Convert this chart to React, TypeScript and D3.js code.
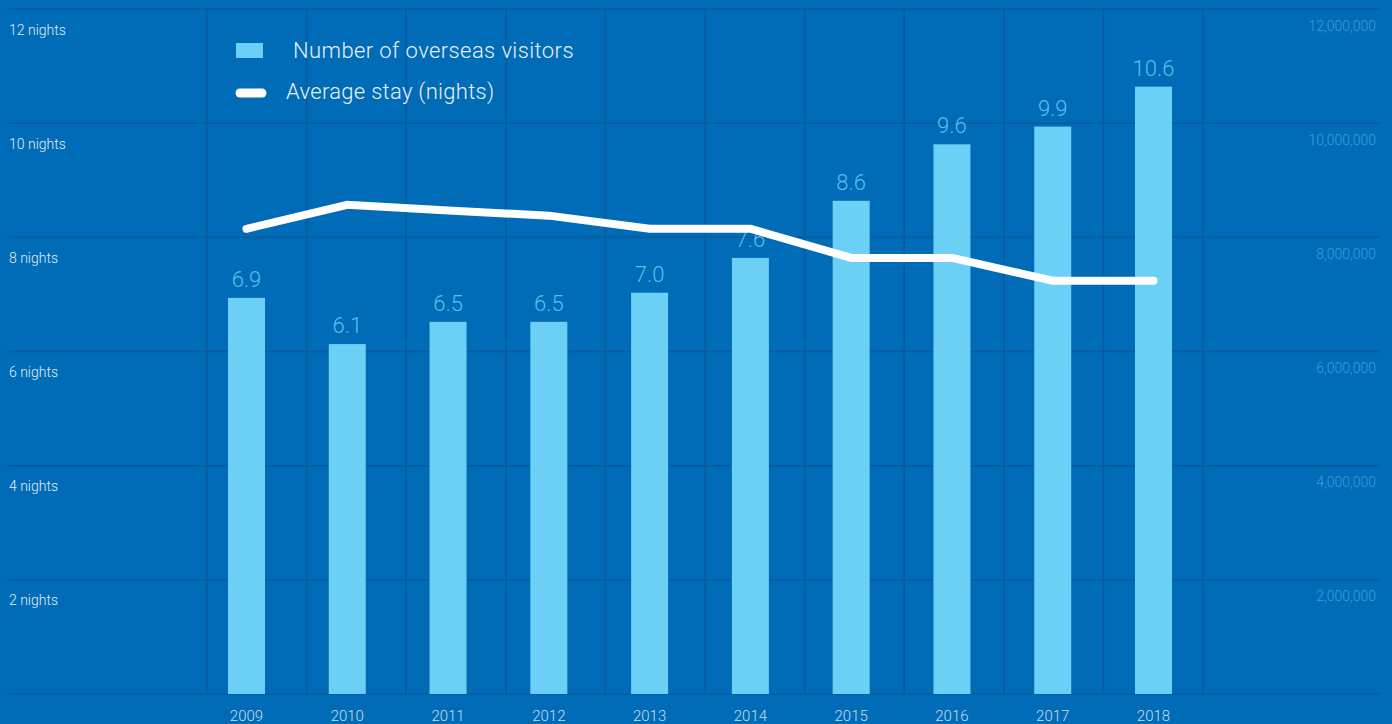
import React from 'react';
import * as d3 from 'd3';

const years = ['2009', '2010', '2011', '2012', '2013', '2014', '2015', '2016', '2017', '2018'];
// overseas visitors, millions
const visitors = [6.94, 6.13, 6.52, 6.52, 7.03, 7.64, 8.64, 9.63, 9.94, 10.64];
// average stay, nights
const avgStay = [8.15, 8.57, 8.47, 8.38, 8.15, 8.15, 7.64, 7.64, 7.24, 7.24];
const nightTicks = [2, 4, 6, 8, 10, 12];
const visitorTicks = [2e6, 4e6, 6e6, 8e6, 10e6, 12e6];

const W = 1392;
const H = 724;
const FONT = "Roboto, 'Noto Sans', sans-serif";

const App: React.FC = () => {
  const x = d3.scalePoint<string>().domain(years).range([246.5, 1153.5]);
  const gridX = d3.scaleLinear().domain([0, 10]).range([207, 1203]);
  const yLeft = d3.scaleLinear().domain([0, 12]).range([694, 9]);
  const yRight = d3.scaleLinear().domain([0, 12e6]).range([694, 9]);
  const barW = 37;

  const line = d3.line<number>()
    .x((_, i) => x(years[i])!)
    .y(d => yLeft(d));

  const fmtLabel = d3.format('.1f');
  const fmtAxis = d3.format(',');

  return (
    <svg width={W} height={H} style={{ position: 'fixed', left: 0, top: 0, background: '#006bb6' }}>
      <rect width={W} height={H} fill="#006bb6" />

      {/* vertical grid */}
      {d3.range(0, 11).map(i => (
        <line key={'v' + i} x1={gridX(i)} x2={gridX(i)} y1={yLeft(12)} y2={yLeft(0)}
          stroke="#0a5a9c" strokeWidth={1.5} />
      ))}
      {/* horizontal grid */}
      {[0, ...nightTicks].map(t => (
        <line key={'h' + t} x1={7} x2={1380} y1={yLeft(t)} y2={yLeft(t)}
          stroke="#0a5a9c" strokeWidth={1.5} />
      ))}

      {/* left axis labels */}
      {nightTicks.map(t => (
        <text key={'l' + t} x={9} y={yLeft(t) + 25.5} fontFamily={FONT} fontSize={14}
          fontWeight={300} fill="#e2edf7">{t} nights</text>
      ))}
      {/* right axis labels */}
      {visitorTicks.map(t => (
        <text key={'r' + t} x={1376} y={yRight(t) + 21.5} fontFamily={FONT} fontSize={14}
          fontWeight={300} textAnchor="end" fill="#3d9ede">{fmtAxis(t)}</text>
      ))}

      {/* bars */}
      {visitors.map((v, i) => (
        <rect key={'b' + i} x={x(years[i])! - barW / 2} y={yRight(v * 1e6)} width={barW}
          height={yRight(0) - yRight(v * 1e6)} fill="#6bcff6" />
      ))}
      {/* bar value labels */}
      {visitors.map((v, i) => (
        <text key={'t' + i} x={x(years[i])!} y={yRight(v * 1e6) - 11} textAnchor="middle"
          fontFamily={FONT} fontWeight={300} fontSize={22} fill="#5cbdf0">{fmtLabel(v)}</text>
      ))}

      {/* year labels */}
      {years.map(y => (
        <text key={'y' + y} x={x(y)!} y={721} textAnchor="middle" fontFamily={FONT}
          fontSize={15} fontWeight={300} fill="#c9ddef">{y}</text>
      ))}

      {/* average stay line */}
      <path d={line(avgStay) ?? ''} fill="none" stroke="#ffffff" strokeWidth={8}
        strokeLinecap="round" strokeLinejoin="miter" />

      {/* legend */}
      <rect x={236} y={43} width={27} height={15} fill="#6bcff6" />
      <text x={293} y={58} fontFamily={FONT} fontWeight={300} fontSize={22} letterSpacing={0.4}
        fill="#e8f0f8">
        Number of overseas visitors
      </text>
      <line x1={240} x2={262} y1={93} y2={93} stroke="#ffffff" strokeWidth={9} strokeLinecap="round" />
      <text x={286} y={99} fontFamily={FONT} fontWeight={300} fontSize={22} letterSpacing={0.3}
        fill="#e8f0f8">
        Average stay (nights)
      </text>
    </svg>
  );
};

export default App;
